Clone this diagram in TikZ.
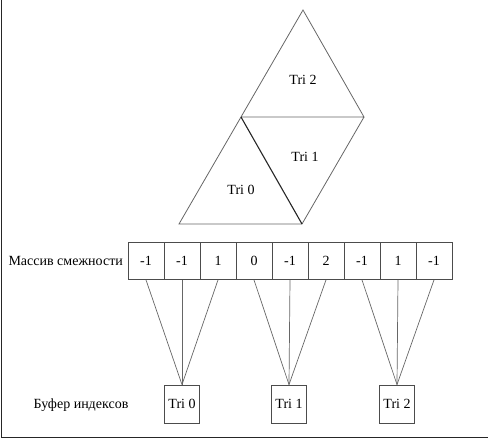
\documentclass[tikz,border=0pt]{standalone}
\usepackage{fontspec}
\setmainfont{Liberation Serif}
\usepackage{tikz}
\usetikzlibrary{calc,positioning}

\tikzset{
  cell/.style={draw=black!70, fill=white, minimum width=36pt, minimum height=37pt, inner sep=0pt},
  bufbox/.style={draw=black!70, fill=white, minimum width=35pt, minimum height=38pt, inner sep=0pt},
  link/.style={draw=black!60, line width=0.7pt}
}

\begin{document}
\begin{tikzpicture}[x=1pt,y=-1pt,font=\fontsize{14}{16}\selectfont,line width=0.8pt]
  \useasboundingbox (0,0) rectangle (488,440);
  \draw [black!85] (1,0) -- (1,437) -- (488,437);
  % triangles
  \coordinate (top) at (303,10);
  \coordinate (ml) at (241,117);
  \coordinate (mr) at (364,117);
  \coordinate (bl) at (179,224);
  \coordinate (br) at (302,224);
  \draw [black!60] (ml) -- (top) -- (mr) -- (ml) -- (bl) -- (br) -- (mr);
  \draw [black!85, line width=1.1pt] (ml) -- (br);
  \node (tri2) at (303,80) {Tri 2};
  \node (tri1) at (305,157) {Tri 1};
  \node (tri0) at (241,190) {Tri 0};
  % adjacency array
  \foreach \v [count=\i] in {-1,-1,1,0,-1,2,-1,1,-1}
    \node [cell] (c\i) at (110+36*\i,261) {\v};
  \node [left=1pt of c1] (adj) {Массив смежности};
  % index buffer
  \node [bufbox] (t0) at (182,404) {Tri 0};
  \node [bufbox] (t1) at (289,404) {Tri 1};
  \node [bufbox] (t2) at (397,404) {Tri 2};
  \node (ibuf) at (81,405) {Буфер индексов};
  \foreach \t/\a/\b/\c in {t0/c1/c2/c3, t1/c4/c5/c6, t2/c7/c8/c9} {
    \draw [link] (\a.south) -- (\t.north);
    \draw [link] (\b.south) -- (\t.north);
    \draw [link] (\c.south) -- (\t.north);
  }
\end{tikzpicture}
\end{document}
